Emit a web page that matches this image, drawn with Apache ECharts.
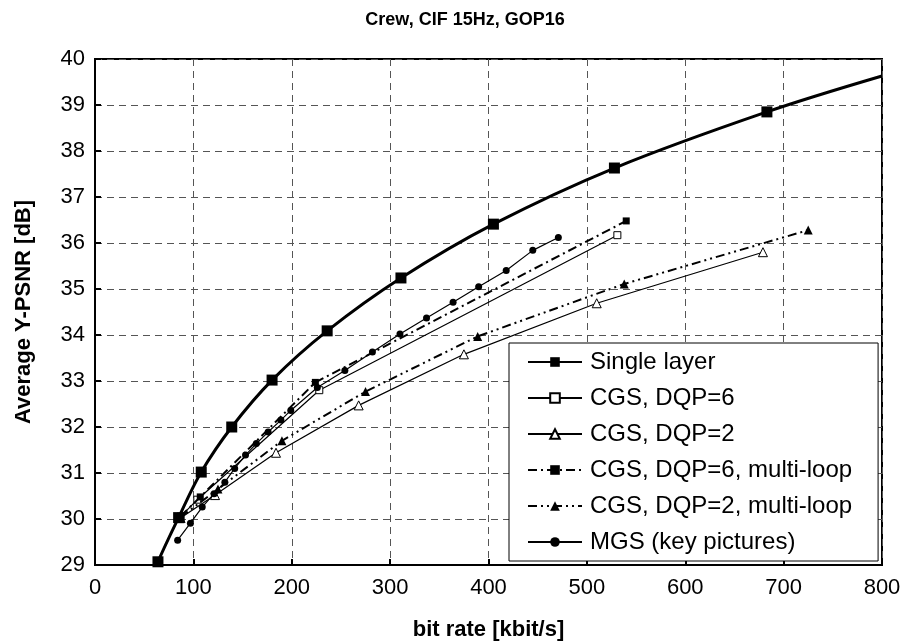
<!DOCTYPE html>
<html>
<head>
<meta charset="utf-8">
<script src="https://cdn.jsdelivr.net/npm/echarts@6/dist/echarts.min.js"></script>
<style>
html,body{margin:0;padding:0;background:#fff;}
#chart{width:904px;height:643px;}
</style>
</head>
<body>
<div id="chart"></div>
<script>
var titleText = 'Crew, CIF 15Hz, GOP16';
var xAxisName = 'bit rate [kbit/s]';
var yAxisName = 'Average Y-PSNR [dB]';
var seriesNames = ['Single layer', 'CGS, DQP=6', 'CGS, DQP=2', 'CGS, DQP=6, multi-loop', 'CGS, DQP=2, multi-loop', 'MGS (key pictures)'];

// [bit rate kbit/s, Y-PSNR dB]
var singleLayer = [[64, 29.07], [85, 30.03], [108, 31.02], [139, 32.0], [180, 33.02], [236, 34.09], [311, 35.24], [405, 36.41], [528, 37.63], [683, 38.85]];
var singleLayerTailStart = [61, 28.85];
var singleLayerTailEnd = [800, 39.63];
var cgsDqp6 = [[87, 30.05], [104, 30.42], [228, 32.8], [531, 36.17]];
var cgsDqp2 = [[87, 30.02], [122, 30.52], [184, 31.44], [268, 32.47], [375, 33.58], [510, 34.69], [679, 35.8]];
var cgsDqp6ML = [[87, 30.06], [107, 30.48], [224, 32.97], [540, 36.48]];
var cgsDqp2ML = [[87, 30.04], [125, 30.65], [190, 31.7], [275, 32.77], [389, 33.97], [538, 35.11], [725, 36.28]];
var mgs = [[84, 29.54], [97, 29.91], [109, 30.26], [121, 30.55], [132, 30.8], [142, 31.1], [153, 31.39], [164, 31.64], [176, 31.89], [189, 32.15], [199, 32.36], [226, 32.86], [254, 33.23], [282, 33.63], [310, 34.02], [337, 34.37], [364, 34.71], [390, 35.05], [418, 35.4], [445, 35.84], [471, 36.12]];

var xMin = 0, xMax = 800, xStep = 100;
var yMin = 29, yMax = 40, yStep = 1;

var FONT = "'Liberation Sans', Arial, sans-serif";
var chart = echarts.init(document.getElementById('chart'), null, {renderer: 'canvas'});

var slData = [{value: singleLayerTailStart, symbol: 'none'}]
  .concat(singleLayer.map(function (p) { return p; }))
  .concat([{value: singleLayerTailEnd, symbol: 'none'}]);

var option = {
  backgroundColor: '#fff',
  animation: false,
  title: {
    text: titleText,
    left: 460,
    top: 6,
    textAlign: 'center',
    textStyle: {fontFamily: FONT, fontSize: 18, fontWeight: 'bold', color: '#000'}
  },
  grid: {left: 95, right: 22, top: 59, bottom: 78, outerBoundsMode: 'none', containLabel: false, show: true, borderColor: '#000', borderWidth: 2, backgroundColor: 'transparent'},
  legend: {
    orient: 'vertical',
    left: 509,
    top: 343,
    itemWidth: 54,
    itemHeight: 12,
    itemGap: 12,
    padding: [7, 26, 7, 18],
    backgroundColor: '#fff',
    borderColor: '#000',
    borderWidth: 1,
    data: seriesNames,
    textStyle: {fontFamily: FONT, fontSize: 24, lineHeight: 24, color: '#000', padding: [0, 0, 0, 3]}
  },
  xAxis: {
    type: 'value',
    min: xMin, max: xMax, interval: xStep,
    name: xAxisName,
    nameLocation: 'middle',
    nameGap: 54,
    nameTextStyle: {fontFamily: FONT, fontSize: 22, fontWeight: 'bold', color: '#000'},
    axisLine: {show: true, lineStyle: {color: '#000', width: 2}},
    axisTick: {show: true, inside: true, length: 6, lineStyle: {color: '#000', width: 2}},
    axisLabel: {fontFamily: FONT, fontSize: 22, color: '#000', margin: 12},
    splitLine: {show: true, lineStyle: {color: '#555', width: 1, type: [7, 5]}}
  },
  yAxis: {
    type: 'value',
    min: yMin, max: yMax, interval: yStep,
    name: yAxisName,
    nameLocation: 'middle',
    nameGap: 60,
    nameTextStyle: {fontFamily: FONT, fontSize: 22, fontWeight: 'bold', color: '#000'},
    axisLine: {show: true, lineStyle: {color: '#000', width: 2}},
    axisTick: {show: true, inside: true, length: 6, lineStyle: {color: '#000', width: 2}},
    axisLabel: {fontFamily: FONT, fontSize: 22, color: '#000', margin: 10},
    splitLine: {show: true, lineStyle: {color: '#555', width: 1, type: [7, 5]}}
  },
  series: [
    {
      name: seriesNames[0], type: 'line', data: slData, smooth: 0.35, clip: true,
      symbol: 'rect', symbolSize: 11, color: '#000',
      lineStyle: {color: '#000', width: 3}, itemStyle: {color: '#000'}, z: 10
    },
    {
      name: seriesNames[1], type: 'line', data: cgsDqp6, symbol: 'rect', symbolSize: 7, color: '#000',
      lineStyle: {color: '#000', width: 1.2}, itemStyle: {color: '#fff', borderColor: '#000', borderWidth: 1}, z: 5
    },
    {
      name: seriesNames[2], type: 'line', data: cgsDqp2, symbol: 'triangle', symbolSize: 9, color: '#000',
      lineStyle: {color: '#000', width: 1.2}, itemStyle: {color: '#fff', borderColor: '#000', borderWidth: 1}, z: 5
    },
    {
      name: seriesNames[3], type: 'line', data: cgsDqp6ML, symbol: 'rect', symbolSize: 7, color: '#000',
      lineStyle: {color: '#000', width: 2, type: [9, 4, 2, 4]}, itemStyle: {color: '#000'}, z: 6
    },
    {
      name: seriesNames[4], type: 'line', data: cgsDqp2ML, symbol: 'triangle', symbolSize: 9, color: '#000',
      lineStyle: {color: '#000', width: 2, type: [9, 4, 2, 4, 2, 4]}, itemStyle: {color: '#000'}, z: 6
    },
    {
      name: seriesNames[5], type: 'line', data: mgs, symbol: 'circle', symbolSize: 7, color: '#000',
      lineStyle: {color: '#000', width: 1.2}, itemStyle: {color: '#000'}, z: 7
    }
  ]
};
chart.setOption(option);
</script>
</body>
</html>
